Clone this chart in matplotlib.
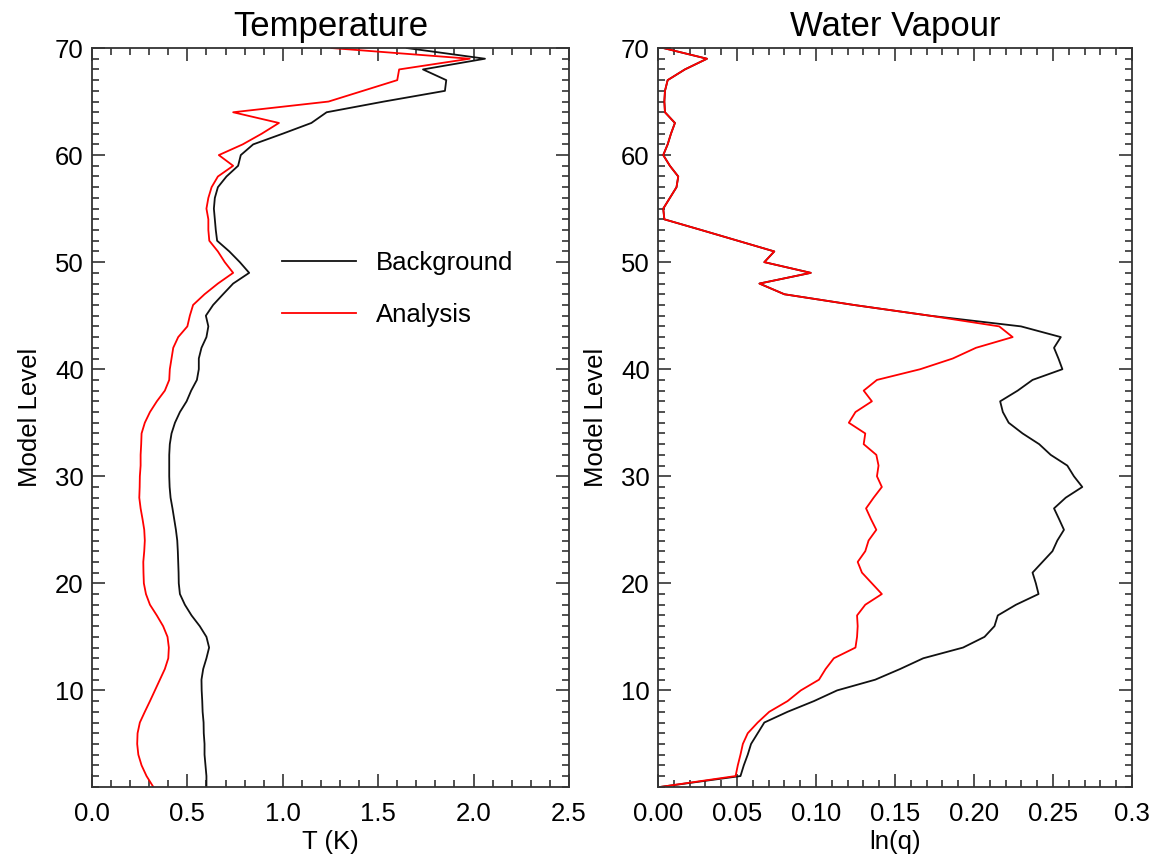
import matplotlib
matplotlib.use("Agg")
import matplotlib.pyplot as plt
from matplotlib.ticker import MultipleLocator, FixedLocator, FixedFormatter

plt.rcParams['font.family'] = ['Liberation Sans', 'DejaVu Sans']

# model levels 1..70
levels = list(range(1, 71))

# Temperature (K), levels 1..70
temp_bg = [0.60, 0.60, 0.595, 0.59, 0.59, 0.586, 0.585, 0.58, 0.578, 0.575,
           0.574, 0.583, 0.60, 0.614, 0.60, 0.565, 0.522, 0.487, 0.461, 0.455,
           0.454, 0.452, 0.450, 0.447, 0.44, 0.431, 0.422, 0.412, 0.407, 0.405,
           0.405, 0.405, 0.408, 0.417, 0.435, 0.461, 0.496, 0.52, 0.55, 0.56,
           0.56, 0.574, 0.60, 0.61, 0.597, 0.635, 0.687, 0.74, 0.824, 0.775,
           0.72, 0.656, 0.649, 0.644, 0.639, 0.644, 0.66, 0.705, 0.766, 0.78,
           0.845, 1.00, 1.15, 1.23, 1.53, 1.85, 1.857, 1.735, 2.06, 1.65]
temp_an = [0.321, 0.286, 0.26, 0.243, 0.237, 0.239, 0.251, 0.277, 0.304, 0.33,
           0.356, 0.382, 0.40, 0.403, 0.396, 0.373, 0.34, 0.304, 0.283, 0.272,
           0.270, 0.269, 0.274, 0.277, 0.274, 0.265, 0.255, 0.248, 0.250, 0.251,
           0.255, 0.255, 0.258, 0.26, 0.277, 0.304, 0.34, 0.382, 0.405, 0.408,
           0.417, 0.426, 0.452, 0.50, 0.513, 0.53, 0.59, 0.66, 0.74, 0.696,
           0.66, 0.615, 0.61, 0.61, 0.60, 0.61, 0.627, 0.66, 0.74, 0.665,
           0.79, 0.89, 0.98, 0.74, 1.24, 1.42, 1.60, 1.61, 1.98, 1.255]

# Water vapour ln(q), levels 1..70
wv_an = [0.0023, 0.0491, 0.0505, 0.0522, 0.0537, 0.0568, 0.0631, 0.0704, 0.082, 0.0904,
         0.1019, 0.1061, 0.1113, 0.125, 0.126, 0.1264, 0.126, 0.1312, 0.1417, 0.1354,
         0.1291, 0.1264, 0.1312, 0.1333, 0.1382, 0.1348, 0.1317, 0.1365, 0.1417, 0.1386,
         0.1396, 0.1382, 0.1302, 0.1312, 0.1208, 0.125, 0.1354, 0.1302, 0.1386, 0.166,
         0.1866, 0.2013, 0.2245, 0.216, 0.172, 0.124, 0.080, 0.0642, 0.0967, 0.0673,
         0.0736, 0.0505, 0.0274, 0.004, 0.0033, 0.0075, 0.0117, 0.0128, 0.0075, 0.0033,
         0.0061, 0.0082, 0.0107, 0.0044, 0.004, 0.0044, 0.0061, 0.017, 0.031, 0.0033]
wv_bg = [0.0023, 0.0522, 0.0543, 0.0568, 0.0589, 0.0631, 0.0673, 0.082, 0.0987, 0.1134,
         0.1375, 0.1533, 0.1679, 0.1931, 0.2067, 0.213, 0.2151, 0.2266, 0.2409, 0.2392,
         0.2371, 0.2434, 0.2497, 0.2528, 0.257, 0.2539, 0.2507, 0.2581, 0.2686, 0.2633,
         0.2591, 0.2486, 0.2413, 0.2308, 0.222, 0.2183, 0.2166, 0.2277, 0.2371, 0.256,
         0.2535, 0.2507, 0.255, 0.2298] + wv_an[44:]

xtick_t = [0.0, 0.5, 1.0, 1.5, 2.0, 2.5]
xtick_t_labels = ['0.0', '0.5', '1.0', '1.5', '2.0', '2.5']
xtick_q = [0.0, 0.05, 0.10, 0.15, 0.20, 0.25, 0.30]
xtick_q_labels = ['0.00', '0.05', '0.10', '0.15', '0.20', '0.25', '0.3']
ytick = [10, 20, 30, 40, 50, 60, 70]

fig = plt.figure(figsize=(11.51, 8.56), dpi=100)
ax1 = fig.add_axes([0.0799, 0.0809, 0.4144, 0.863])
ax2 = fig.add_axes([0.5717, 0.0809, 0.4117, 0.863])

frame_col = '#333333'
fs = 18.5


def style(ax, xticks, xlabels, minor_x, xlim, title, xlabel):
    ax.set_xlim(*xlim)
    ax.set_ylim(1, 70)
    ax.xaxis.set_major_locator(FixedLocator(xticks))
    ax.xaxis.set_major_formatter(FixedFormatter(xlabels))
    ax.xaxis.set_minor_locator(MultipleLocator(minor_x))
    ax.yaxis.set_major_locator(FixedLocator(ytick))
    ax.yaxis.set_minor_locator(MultipleLocator(1))
    ax.tick_params(which='both', direction='in', top=True, right=True,
                   color=frame_col, width=1.2, labelsize=fs)
    ax.tick_params(axis='x', pad=11)
    ax.tick_params(axis='y', pad=6)
    ax.tick_params(which='major', length=9.5)
    ax.tick_params(which='minor', length=5)
    for s in ax.spines.values():
        s.set_color(frame_col)
        s.set_linewidth(1.3)
    ax.set_title(title, fontsize=25, pad=9)
    ax.set_xlabel(xlabel, fontsize=fs, labelpad=3)
    ax.set_ylabel('Model Level', fontsize=fs, labelpad=9)


ax1.plot(temp_bg, levels, color='#111111', lw=1.3, label='Background')
ax1.plot(temp_an, levels, color='red', lw=1.3, label='Analysis')
style(ax1, xtick_t, xtick_t_labels, 0.1, (0, 2.5), 'Temperature', 'T (K)')
ax1.legend(loc='center left', bbox_to_anchor=(0.398, 0.674), frameon=False,
           fontsize=fs, handlelength=2.9, handletextpad=0.77, labelspacing=1.1,
           borderpad=0, borderaxespad=0)

ax2.plot(wv_bg, levels, color='#111111', lw=1.3)
ax2.plot(wv_an, levels, color='red', lw=1.3)
style(ax2, xtick_q, xtick_q_labels, 0.01, (0, 0.3), 'Water Vapour', 'ln(q)')

fig.savefig('out.png', dpi=100)
